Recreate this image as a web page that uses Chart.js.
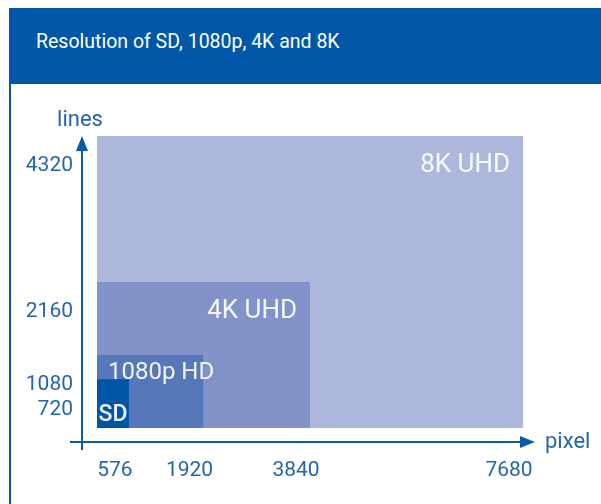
<!DOCTYPE html>
<html>
<head>
<meta charset="utf-8">
<script src="https://cdn.jsdelivr.net/npm/chart.js@4.4.1/dist/chart.umd.min.js"></script>
<style>
  html, body { margin: 0; padding: 0; background: #fff; }
  body { width: 601px; height: 504px; position: relative; overflow: hidden; font-family: Roboto, sans-serif; }
  .header { position: absolute; left: 9px; top: 8px; width: 592px; height: 76px; background: #0057a8; }
  .header h1 { position: absolute; left: 27px; top: 22px; margin: 0; font-size: 19.5px; font-weight: 400; line-height: 24px; color: #fff; }
  .frame { position: absolute; left: 9px; top: 84px; width: 2px; height: 420px; background: #0057a8; }
  #chart { position: absolute; left: 0; top: 0; }
</style>
</head>
<body>
<div class="header"><h1>Resolution of SD, 1080p, 4K and 8K</h1></div>
<div class="frame"></div>
<canvas id="chart" width="601" height="504"></canvas>
<script>
// formats, smallest first
const categories = ['SD', '1080p HD', '4K UHD', '8K UHD'];
const widths = [576, 1920, 3840, 7680];    // pixel
const heights = [720, 1080, 2160, 4320];   // lines
const xTicks = [576, 1920, 3840, 7680];
const yTicks = [720, 1080, 2160, 4320];

const fills = ['#0055a6', '#5677b9', '#8193c8', '#aeb8dc'];
const BLUE = '#0a5aa8';
const TEXT = '#2466ae';
const FONT = 'Roboto, sans-serif';

// white captions inside the rectangles
const boxLabels = {
    id: 'boxLabels',
    afterDatasetsDraw: (chart) => {
        const ctx = chart.ctx;
        const base = chart.scales.y.getPixelForValue(0);
        ctx.save();
        ctx.fillStyle = 'rgba(255, 255, 255, 0.92)';
        ctx.textBaseline = 'alphabetic';
        chart.data.datasets.forEach((ds, i) => {
            const pts = chart.getDatasetMeta(i).data;
            const left = pts[0].x, right = pts[1].x, top = pts[0].y;
            if (i >= 2) {
                ctx.font = '26px ' + FONT;
                ctx.textAlign = 'right';
                ctx.fillText(ds.label, right - 13, top + 36);
            } else if (i === 1) {
                ctx.font = '24px ' + FONT;
                ctx.textAlign = 'left';
                ctx.fillText(ds.label, left + 11, top + 24);
            } else {
                ctx.font = '500 23px ' + FONT;
                ctx.textAlign = 'center';
                ctx.fillText(ds.label, (left + right) / 2, base - 7);
            }
        });
        ctx.restore();
    }
};

// arrowed axes and their names
const axisArrows = {
    id: 'axisArrows',
    afterDraw: (chart) => {
        const ctx = chart.ctx;
        const a = chart.chartArea;
        ctx.save();
        ctx.strokeStyle = BLUE;
        ctx.fillStyle = BLUE;
        ctx.lineWidth = 2;

        ctx.beginPath();
        ctx.moveTo(a.left, a.bottom + 8);
        ctx.lineTo(a.left, a.top + 10);
        ctx.moveTo(a.left - 12, a.bottom);
        ctx.lineTo(a.right - 10, a.bottom);
        ctx.stroke();

        ctx.beginPath();
        ctx.moveTo(a.left, a.top);
        ctx.lineTo(a.left - 6, a.top + 15);
        ctx.lineTo(a.left + 6, a.top + 15);
        ctx.closePath();
        ctx.moveTo(a.right, a.bottom);
        ctx.lineTo(a.right - 15, a.bottom - 6);
        ctx.lineTo(a.right - 15, a.bottom + 6);
        ctx.closePath();
        ctx.fill();

        ctx.fillStyle = TEXT;
        ctx.font = '22px ' + FONT;
        ctx.textBaseline = 'alphabetic';
        ctx.textAlign = 'center';
        ctx.fillText('lines', a.left - 2, a.top - 10);
        ctx.textAlign = 'left';
        ctx.fillText('pixel', a.right + 10, a.bottom + 6);
        ctx.restore();
    }
};

new Chart(document.getElementById('chart').getContext('2d'), {
    type: 'line',
    data: {
        datasets: categories.map((name, i) => ({
            label: name,
            data: [{ x: 0, y: heights[i] }, { x: widths[i], y: heights[i] }],
            backgroundColor: fills[i],
            borderColor: 'rgba(0, 0, 0, 0)',
            borderWidth: 0,
            pointRadius: 0,
            fill: 'origin'
        }))
    },
    options: {
        responsive: false,
        animation: false,
        layout: { padding: { left: 0, top: 136, right: 66, bottom: 0 } },
        plugins: { legend: { display: false }, tooltip: { enabled: false } },
        scales: {
            x: {
                type: 'linear',
                min: -270,
                max: 7896,
                afterBuildTicks: (s) => { s.ticks = xTicks.map(v => ({ value: v })); },
                afterFit: (s) => { s.height = 62; },
                grid: { display: false, drawTicks: false },
                border: { display: false },
                ticks: {
                    color: TEXT,
                    font: { family: FONT, size: 21 },
                    padding: 16,
                    labelOffset: -14,
                    maxRotation: 0,
                    autoSkip: false,
                    callback: (v) => String(v)
                }
            },
            y: {
                type: 'linear',
                min: -207,
                max: 4320,
                afterBuildTicks: (s) => { s.ticks = yTicks.map(v => ({ value: v })); },
                afterFit: (s) => { s.width = 82; },
                grid: { display: false, drawTicks: false },
                border: { display: false },
                ticks: {
                    color: TEXT,
                    font: { family: FONT, size: 21 },
                    padding: 9,
                    labelOffset: 30,
                    autoSkip: false,
                    callback: (v) => String(v)
                }
            }
        }
    },
    plugins: [boxLabels, axisArrows]
});
</script>
</body>
</html>
